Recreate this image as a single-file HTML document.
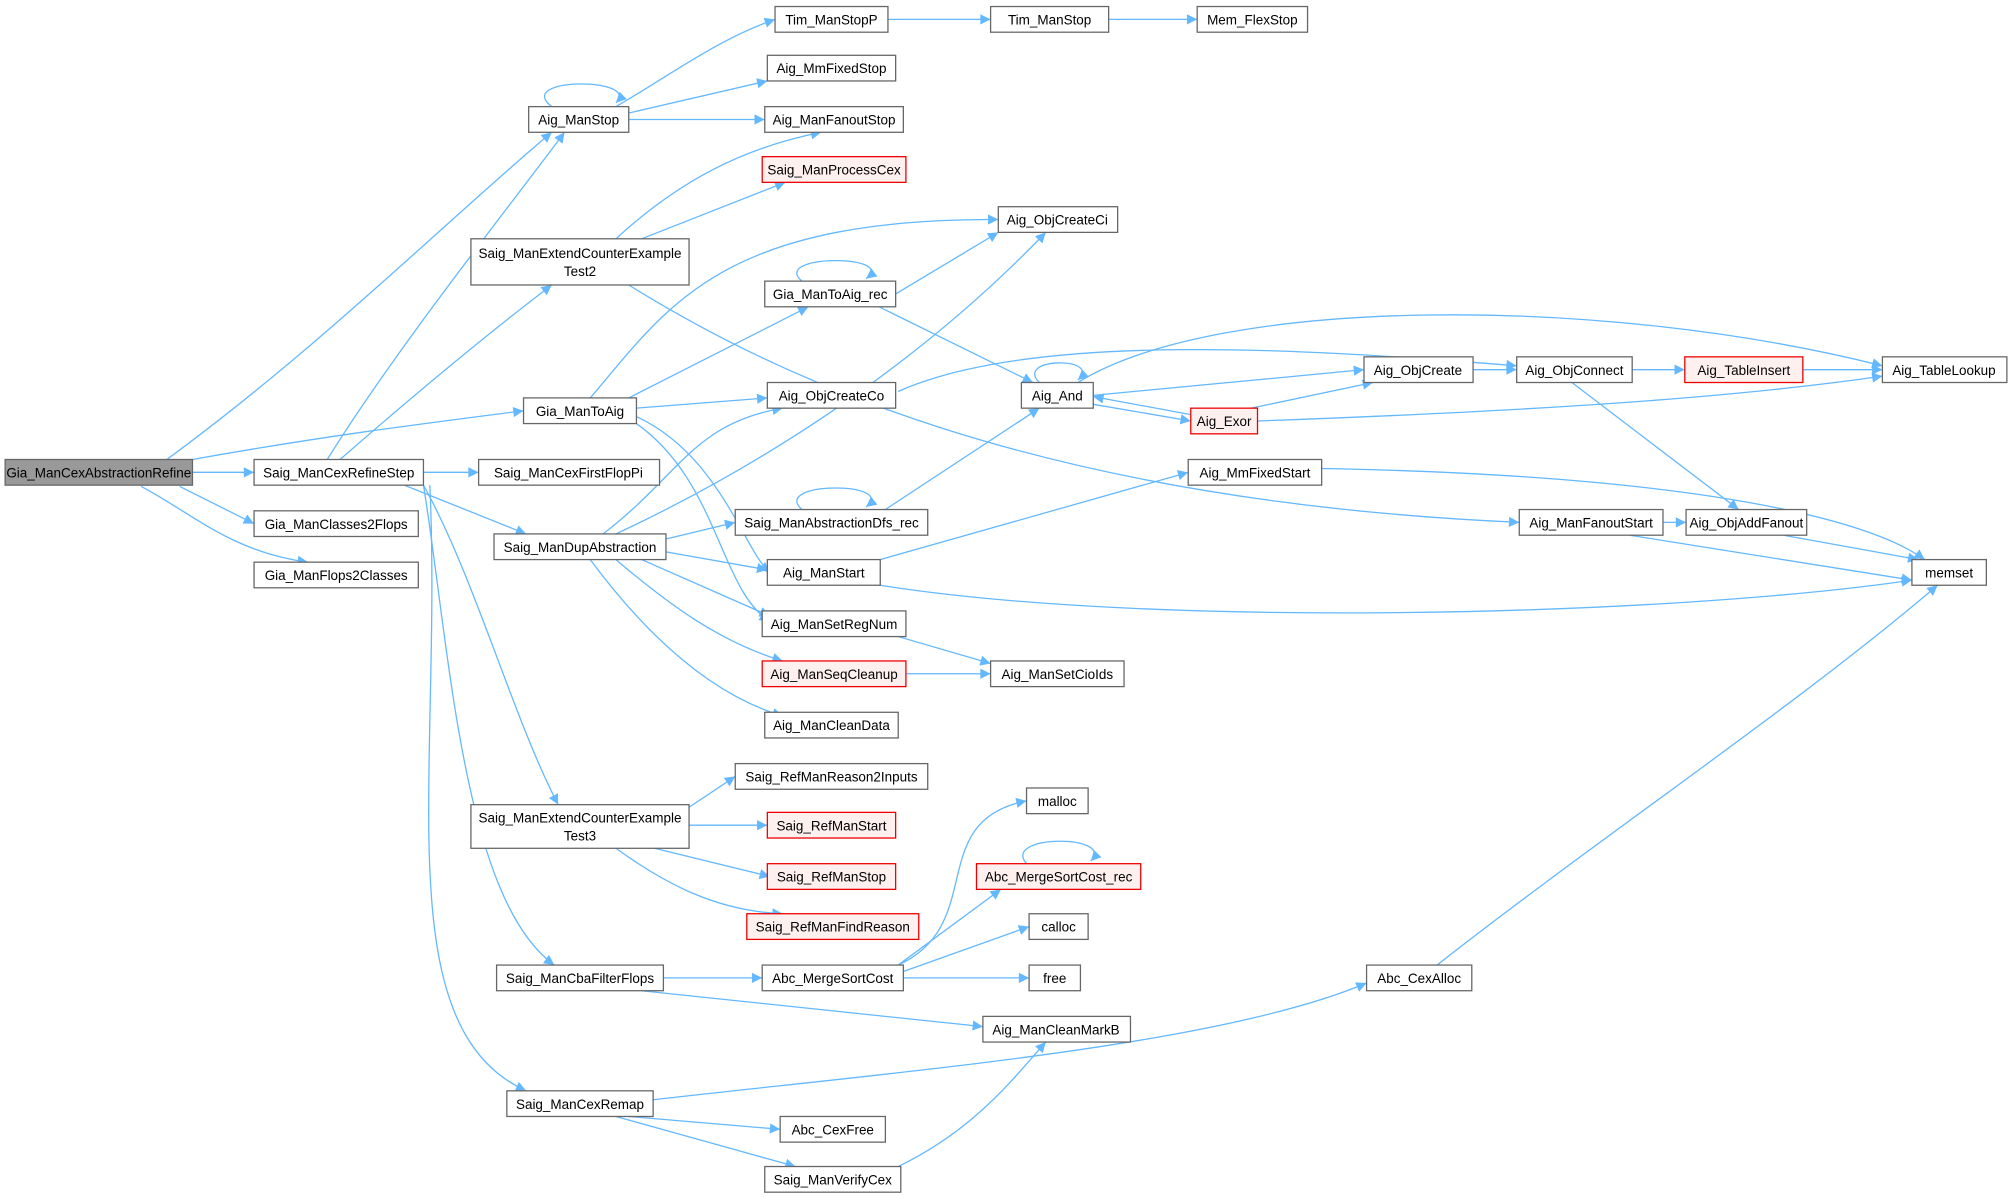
<!DOCTYPE html>
<html><head><meta charset="utf-8"><style>
html,body{margin:0;padding:0;background:#fff}
svg{display:block}
text{font-family:"Liberation Sans",Arial,sans-serif;font-size:10.5px;fill:#000;text-anchor:middle}
.n{fill:#fff;stroke:#666;stroke-width:1}
.r{fill:#fff0f0;stroke:#e00;stroke-width:1}
.g{fill:#999;stroke:#666;stroke-width:1}
path.e{fill:none;stroke:#63b8ff;stroke-width:1;marker-end:url(#a)}
</style></head><body>
<svg width="2012" height="1200" viewBox="0 0 1568 935" xmlns="http://www.w3.org/2000/svg">
<defs><marker id="a" viewBox="0 0 10 10" refX="10" refY="5" markerWidth="10" markerHeight="8" orient="auto" markerUnits="userSpaceOnUse"><path d="M0,0 L10,5 L0,10 z" fill="#63b8ff"/></marker></defs>
<g>
<path class="e" d="M150,368 L198,368"/>
<path class="e" d="M130,358 C250,270 350,170 430,103"/>
<path class="e" d="M150,358 C250,340 330,330 408,320"/>
<path class="e" d="M140,379 L198,408"/>
<path class="e" d="M110,379 C150,400 180,430 240,438"/>
<path class="e" d="M255,358 C310,270 390,170 440,103"/>
<path class="e" d="M265,358 C320,310 380,260 430,222"/>
<path class="e" d="M330,368 L373,368"/>
<path class="e" d="M315,378 L410,416"/>
<path class="e" d="M330,378 C370,450 400,560 435,627"/>
<path class="e" d="M330,378 C350,500 360,700 432,752"/>
<path class="e" d="M335,378 C345,600 300,800 410,850"/>
<path class="e" d="M480,83 C520,60 560,30 604,15"/>
<path class="e" d="M490,88 L598,63"/>
<path class="e" d="M490,93 L596,93"/>
<path class="e" d="M430,83 C400,60 500,60 480,80"/>
<path class="e" d="M692,15 L772,15"/>
<path class="e" d="M864,15 L933,15"/>
<path class="e" d="M480,186 C530,140 580,115 640,103"/>
<path class="e" d="M500,186 L612,142"/>
<path class="e" d="M490,222 C600,290 800,390 1184,407"/>
<path class="e" d="M460,310 C520,240 560,170 778,171"/>
<path class="e" d="M490,310 L630,239"/>
<path class="e" d="M496,318 L598,310"/>
<path class="e" d="M490,322 C560,350 580,430 600,446"/>
<path class="e" d="M490,326 C560,370 560,460 600,484"/>
<path class="e" d="M698,229 L778,181"/>
<path class="e" d="M685,239 L805,298"/>
<path class="e" d="M625,219 C600,198 700,198 675,217"/>
<path class="e" d="M480,416 C600,360 720,280 815,181"/>
<path class="e" d="M470,416 C530,370 540,330 610,318"/>
<path class="e" d="M519,420 L573,407"/>
<path class="e" d="M519,430 L598,444"/>
<path class="e" d="M500,436 L600,480"/>
<path class="e" d="M480,436 C520,470 560,500 610,515"/>
<path class="e" d="M460,436 C500,490 550,540 610,558"/>
<path class="e" d="M690,397 L810,318"/>
<path class="e" d="M625,397 C600,375 700,375 675,395"/>
<path class="e" d="M700,305 C800,260 1000,270 1182,285"/>
<path class="e" d="M686,436 L926,368"/>
<path class="e" d="M686,456 C900,490 1300,480 1490,452"/>
<path class="e" d="M700,496 L772,517"/>
<path class="e" d="M706,525 L772,525"/>
<path class="e" d="M852,308 L1063,288"/>
<path class="e" d="M852,315 L928,328"/>
<path class="e" d="M810,298 C790,278 860,278 840,296"/>
<path class="e" d="M840,298 C950,230 1250,230 1467,285"/>
<path class="e" d="M928,323 L852,309"/>
<path class="e" d="M975,318 L1070,298"/>
<path class="e" d="M980,328 C1200,320 1350,310 1467,293"/>
<path class="e" d="M1148,288 L1182,288"/>
<path class="e" d="M1272,288 L1313,288"/>
<path class="e" d="M1405,288 L1467,288"/>
<path class="e" d="M1225,298 L1355,397"/>
<path class="e" d="M1030,365 C1300,370 1450,400 1500,436"/>
<path class="e" d="M1296,407 L1314,407"/>
<path class="e" d="M1270,417 L1490,452"/>
<path class="e" d="M1390,417 L1495,436"/>
<path class="e" d="M537,629 L573,605"/>
<path class="e" d="M537,643 L598,643"/>
<path class="e" d="M510,661 L600,683"/>
<path class="e" d="M480,661 C520,690 560,710 610,712"/>
<path class="e" d="M517,762 L594,762"/>
<path class="e" d="M500,772 L766,800"/>
<path class="e" d="M700,752 C770,720 720,640 800,624"/>
<path class="e" d="M700,752 L780,693"/>
<path class="e" d="M704,757 L802,722"/>
<path class="e" d="M704,762 L802,762"/>
<path class="e" d="M800,673 C780,650 870,650 850,671"/>
<path class="e" d="M509,857 C700,835 950,815 1065,766"/>
<path class="e" d="M490,870 L608,880"/>
<path class="e" d="M480,870 L620,909"/>
<path class="e" d="M700,909 C760,880 790,840 815,812"/>
<path class="e" d="M1120,752 C1250,650 1400,550 1510,456"/>
</g>
<g>
<rect class="g" x="4" y="358" width="146" height="20"/><text x="77" y="372">Gia_ManCexAbstractionRefine</text>
<rect class="n" x="198" y="358" width="132" height="20"/><text x="264" y="372">Saig_ManCexRefineStep</text>
<rect class="n" x="198" y="398" width="128" height="20"/><text x="262" y="412">Gia_ManClasses2Flops</text>
<rect class="n" x="198" y="438" width="128" height="20"/><text x="262" y="452">Gia_ManFlops2Classes</text>
<rect class="n" x="412" y="83" width="78" height="20"/><text x="451" y="97">Aig_ManStop</text>
<rect class="n" x="408" y="310" width="88" height="20"/><text x="452" y="324">Gia_ManToAig</text>
<rect class="n" x="367" y="186" width="170" height="36"/><text x="452" y="201">Saig_ManExtendCounterExample</text><text x="452" y="215">Test2</text>
<rect class="n" x="385" y="416" width="134" height="20"/><text x="452" y="430">Saig_ManDupAbstraction</text>
<rect class="n" x="367" y="627" width="170" height="34"/><text x="452" y="641">Saig_ManExtendCounterExample</text><text x="452" y="655">Test3</text>
<rect class="n" x="387" y="752" width="130" height="20"/><text x="452" y="766">Saig_ManCbaFilterFlops</text>
<rect class="n" x="395" y="850" width="114" height="20"/><text x="452" y="864">Saig_ManCexRemap</text>
<rect class="n" x="373" y="358" width="141" height="20"/><text x="443" y="372">Saig_ManCexFirstFlopPi</text>
<rect class="n" x="604" y="5" width="88" height="20"/><text x="648" y="19">Tim_ManStopP</text>
<rect class="n" x="772" y="5" width="92" height="20"/><text x="818" y="19">Tim_ManStop</text>
<rect class="n" x="933" y="5" width="86" height="20"/><text x="976" y="19">Mem_FlexStop</text>
<rect class="n" x="598" y="43" width="100" height="20"/><text x="648" y="57">Aig_MmFixedStop</text>
<rect class="n" x="596" y="83" width="108" height="20"/><text x="650" y="97">Aig_ManFanoutStop</text>
<rect class="r" x="594" y="122" width="112" height="20"/><text x="650" y="136">Saig_ManProcessCex</text>
<rect class="n" x="778" y="161" width="93" height="20"/><text x="824" y="175">Aig_ObjCreateCi</text>
<rect class="n" x="596" y="219" width="102" height="20"/><text x="647" y="233">Gia_ManToAig_rec</text>
<rect class="n" x="598" y="298" width="100" height="20"/><text x="648" y="312">Aig_ObjCreateCo</text>
<rect class="n" x="573" y="397" width="150" height="20"/><text x="648" y="411">Saig_ManAbstractionDfs_rec</text>
<rect class="n" x="598" y="436" width="88" height="20"/><text x="642" y="450">Aig_ManStart</text>
<rect class="n" x="594" y="476" width="112" height="20"/><text x="650" y="490">Aig_ManSetRegNum</text>
<rect class="r" x="594" y="515" width="112" height="20"/><text x="650" y="529">Aig_ManSeqCleanup</text>
<rect class="n" x="596" y="555" width="104" height="20"/><text x="648" y="569">Aig_ManCleanData</text>
<rect class="n" x="772" y="515" width="104" height="20"/><text x="824" y="529">Aig_ManSetCioIds</text>
<rect class="n" x="573" y="595" width="150" height="20"/><text x="648" y="609">Saig_RefManReason2Inputs</text>
<rect class="r" x="598" y="633" width="100" height="20"/><text x="648" y="647">Saig_RefManStart</text>
<rect class="r" x="598" y="673" width="100" height="20"/><text x="648" y="687">Saig_RefManStop</text>
<rect class="r" x="582" y="712" width="134" height="20"/><text x="649" y="726">Saig_RefManFindReason</text>
<rect class="n" x="594" y="752" width="110" height="20"/><text x="649" y="766">Abc_MergeSortCost</text>
<rect class="n" x="766" y="792" width="115" height="20"/><text x="823" y="806">Aig_ManCleanMarkB</text>
<rect class="n" x="608" y="870" width="82" height="20"/><text x="649" y="884">Abc_CexFree</text>
<rect class="n" x="596" y="909" width="106" height="20"/><text x="649" y="923">Saig_ManVerifyCex</text>
<rect class="n" x="796" y="298" width="56" height="20"/><text x="824" y="312">Aig_And</text>
<rect class="n" x="926" y="358" width="104" height="20"/><text x="978" y="372">Aig_MmFixedStart</text>
<rect class="n" x="1063" y="278" width="85" height="20"/><text x="1105" y="292">Aig_ObjCreate</text>
<rect class="r" x="928" y="318" width="52" height="20"/><text x="954" y="332">Aig_Exor</text>
<rect class="n" x="1182" y="278" width="90" height="20"/><text x="1227" y="292">Aig_ObjConnect</text>
<rect class="r" x="1313" y="278" width="92" height="20"/><text x="1359" y="292">Aig_TableInsert</text>
<rect class="n" x="1467" y="278" width="97" height="20"/><text x="1515" y="292">Aig_TableLookup</text>
<rect class="n" x="1184" y="397" width="112" height="20"/><text x="1240" y="411">Aig_ManFanoutStart</text>
<rect class="n" x="1314" y="397" width="94" height="20"/><text x="1361" y="411">Aig_ObjAddFanout</text>
<rect class="n" x="1490" y="436" width="58" height="20"/><text x="1519" y="450">memset</text>
<rect class="n" x="800" y="614" width="48" height="20"/><text x="824" y="628">malloc</text>
<rect class="r" x="761" y="673" width="128" height="20"/><text x="825" y="687">Abc_MergeSortCost_rec</text>
<rect class="n" x="802" y="712" width="46" height="20"/><text x="825" y="726">calloc</text>
<rect class="n" x="802" y="752" width="40" height="20"/><text x="822" y="766">free</text>
<rect class="n" x="1065" y="752" width="82" height="20"/><text x="1106" y="766">Abc_CexAlloc</text>
</g>
</svg>
</body></html>
